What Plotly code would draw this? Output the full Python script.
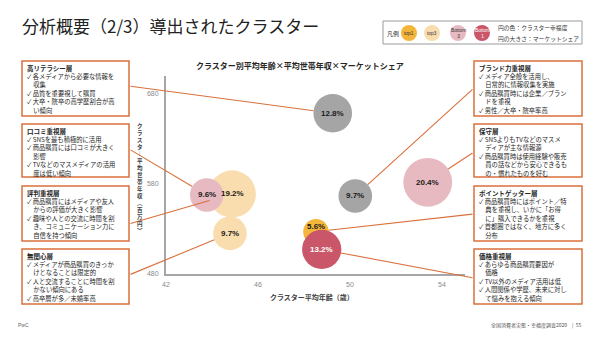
import plotly.graph_objects as go
import numpy as np

# ---------------- data ----------------
shares = [12.8, 19.2, 9.6, 9.7, 9.7, 20.4, 5.6, 13.2]
labels = ["12.8%", "19.2%", "9.6%", "9.7%", "9.7%", "20.4%", "5.6%", "13.2%"]
ages = [49.25, 44.88, 43.77, 44.78, 50.23, 53.38, 48.52, 48.77]
incomes = [658.6, 568.9, 567.8, 525.2, 566.7, 581.9, 527.0, 507.4]
happiness = ["mid", "top3", "bottom3", "top3", "mid", "bottom3", "top1", "bottom1"]

x_ticks = [42, 46, 50, 54]
y_ticks = [480, 580, 680]

left_boxes = [
    ("高リテラシー層", ["✓ 各メディアから必要な情報を", "　収集", "✓ 品質を重要視して購買",
                      "✓ 大卒・院卒の高学歴割合が高", "　い傾向"]),
    ("口コミ重視層", ["✓ SNSを最も積極的に活用", "✓ 商品購買には口コミが大きく", "　影響",
                     "✓ TVなどのマスメディアの活用", "　度は低い傾向"]),
    ("評判重視層", ["✓ 商品購買にはメディアや友人", "　からの評価が大きく影響",
                   "✓ 趣味や人との交流に時間を割", "　き、コミュニケーション力に", "　自信を持つ傾向"]),
    ("無関心層", ["✓ メディアが商品購買のきっか", "　けとなることは限定的",
                 "✓ 人と交流することに時間を割", "　かない傾向にある", "✓ 高卒層が多／未婚率高"]),
]
right_boxes = [
    ("ブランド力重視層", ["✓ メディア全般を活用し、", "　日常的に情報収集を実施",
                        "✓ 商品購買時には企業／ブラン", "　ドを重視", "✓ 男性／大卒・院卒率高"]),
    ("保守層", ["✓ SNSよりもTVなどのマスメ", "　ディアが主な情報源",
               "✓ 商品購買時は使用経験や販売", "　員の話などから安心できるも", "　の・慣れたものを好む"]),
    ("ポイントゲッター層", ["✓ 商品購買時にはポイント／特", "　典を重視し、いかに「お得",
                          "　に」購入できるかを重視", "✓ 首都圏ではなく、地方に多く", "　分布"]),
    ("価格重視層", ["✓ あらゆる商品購買要因が", "　価格", "✓ TV以外のメディア活用は低",
                   "✓ 人間関係や学歴、未来に対し", "　て悩みを抱える傾向"]),
]
left_targets = [0, 2, 1, 3]
right_targets = [4, 5, 6, 7]

legend_items = [("top1", "top1"), ("top3", "top3"), ("Bottom<br>3", "bottom3"), ("Bottom<br>1", "bottom1")]

# ---------------- styling ----------------
COLORS = {"top1": "#F4B63A", "top3": "#F9DDAE", "bottom3": "#E7B9C1",
          "bottom1": "#C95769", "mid": "#A5A5A5"}
ORANGE = "#D9703C"
FONT = "Noto Sans CJK JP, DejaVu Sans, sans-serif"
NUMFONT = "Liberation Sans, Arial, sans-serif"

FW, FH = 600, 338
L, T, R, B = 166, 76, 135, 64
W, H = FW - L - R, FH - T - B
XR = [42, 55]
YR = [480, 700]


def fx(p):
    return (p - L) / W


def fy(p):
    return 1 - (p - T) / H


def data_px(x, y):
    return (L + (x - XR[0]) / (XR[1] - XR[0]) * W,
            T + (YR[1] - y) / (YR[1] - YR[0]) * H)


diam = [10.8 * np.sqrt(s) for s in shares]

fig = go.Figure()
fig.add_trace(go.Scatter(
    x=ages, y=incomes, mode="markers",
    marker=dict(size=diam, sizemode="diameter",
                color=[COLORS[h] for h in happiness], opacity=1,
                line=dict(width=0)),
    hoverinfo="skip", showlegend=False, cliponaxis=False))

annotations = []
shapes = []


def ptext(x, y, text, size, color="#262626", family=FONT, xanchor="center", yanchor="middle"):
    annotations.append(dict(x=fx(x), y=fy(y), xref="paper", yref="paper",
                            xanchor=xanchor, yanchor=yanchor, showarrow=False, borderpad=0,
                            text=text, font=dict(family=family, size=size, color=color)))


# bubble labels
yshifts = [0, 0, 0, 0, 0, 0, 5, 0]
for i, lab in enumerate(labels):
    annotations.append(dict(
        x=ages[i], y=incomes[i], xref="x", yref="y", text=f"<b>{lab}</b>",
        showarrow=False, yshift=yshifts[i], xanchor="center", yanchor="middle", borderpad=0,
        font=dict(family=NUMFONT, size=8,
                  color="white" if happiness[i] == "bottom1" else "#1a1a1a")))

# boxes
rows = [(61, 116), (124, 177), (186, 241), (249, 304)]
box_anchor_y_left = [86, 149, 224, 275]
box_anchor_y_right = [88, 152, 214, 278]


def add_box(x0, x1, y0, y1, title, lines):
    shapes.append(dict(type="rect", xref="paper", yref="paper",
                       x0=fx(x0), x1=fx(x1), y0=fy(y1), y1=fy(y0),
                       line=dict(color=ORANGE, width=1.5), fillcolor="white", layer="above"))
    ptext(x0 + 4, y0 + 6.5, f"<b>{title}</b>", 6.5, xanchor="left")
    for j, ln in enumerate(lines):
        ptext(x0 + 4, y0 + 15 + j * 8.5, ln, 6.3, xanchor="left")


def add_connector(idx, ex, ey):
    bx, by = data_px(ages[idx], incomes[idx])
    annotations.append(dict(x=ages[idx], y=incomes[idx], xref="x", yref="y",
                            ax=ex - bx, ay=ey - by, axref="pixel", ayref="pixel",
                            text="", showarrow=True, arrowhead=0, arrowwidth=1.1,
                            arrowcolor=ORANGE, standoff=diam[idx] / 2))


for k, (title, lines) in enumerate(left_boxes):
    add_box(22, 129, rows[k][0], rows[k][1], title, lines)
    add_connector(left_targets[k], 129, box_anchor_y_left[k])
for k, (title, lines) in enumerate(right_boxes):
    add_box(474, 582, rows[k][0], rows[k][1], title, lines)
    add_connector(right_targets[k], 474, box_anchor_y_right[k])

# page title
ptext(21, 25, "分析概要（2/3）導出されたクラスター", 17, color="#222222", xanchor="left")
# chart title
ptext(300, 65, "<b>クラスター別平均年齢×平均世帯年収×マーケットシェア</b>", 8)
# x-axis title
ptext(312, 297, "<b>クラスター平均年齢（歳）</b>", 7, color="#404040")
# vertical y-axis title
vert_map = {"ー": "︱", "（": "︵", "）": "︶"}
ytitle = "クラスター平均世帯年収（百万円）"
for j, ch in enumerate(ytitle):
    ptext(140, 125.5 + j * 7.0, f"<b>{vert_map.get(ch, ch)}</b>", 5.5, color="#404040")

# legend box
shapes.append(dict(type="rect", xref="paper", yref="paper", x0=fx(383), x1=fx(582),
                   y0=fy(44), y1=fy(21), line=dict(color="#9a9a9a", width=1), fillcolor="white"))
ptext(393, 33, "凡例", 6, color="#333")
leg_x = [409, 432, 458, 482]
for (txt, key), cx in zip(legend_items, leg_x):
    r = 8
    shapes.append(dict(type="circle", xref="paper", yref="paper",
                       x0=fx(cx - r), x1=fx(cx + r), y0=fy(33 + r), y1=fy(33 - r),
                       line=dict(width=0), fillcolor=COLORS[key]))
    ptext(cx, 33, txt, 4.8, family=NUMFONT, color="white" if key == "bottom1" else "#333")
ptext(497, 27, "円の色：クラスター幸福度", 5.8, color="#333", xanchor="left")
ptext(497, 38.5, "円の大きさ：マーケットシェア", 5.8, color="#333", xanchor="left")

# footer
ptext(17, 325, "PwC", 5, color="#666", family=NUMFONT, xanchor="left")
ptext(582, 325, "全国消費者実態・幸福度調査2020　|  55", 5, color="#555", xanchor="right")

fig.update_layout(
    width=FW, height=FH, margin=dict(l=L, r=R, t=T, b=B),
    paper_bgcolor="white", plot_bgcolor="white",
    showlegend=False, annotations=annotations, shapes=shapes,
    xaxis=dict(range=XR, tickvals=x_ticks, showgrid=False, zeroline=False, showline=True,
               linecolor="#A6A6A6", linewidth=2, ticks="", ticklabelstandoff=3,
               tickfont=dict(family=NUMFONT, size=7, color="#8a8a8a")),
    yaxis=dict(range=YR, tickvals=y_ticks, showgrid=False, zeroline=False, showline=True,
               linecolor="#A6A6A6", linewidth=2, ticks="", ticklabelstandoff=4,
               tickfont=dict(family=NUMFONT, size=7, color="#8a8a8a")),
)

fig.write_html("out.html")
